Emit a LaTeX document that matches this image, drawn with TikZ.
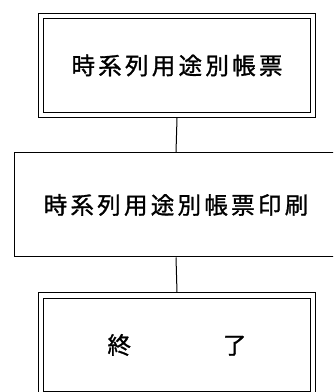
\documentclass[tikz,border=0pt]{standalone}
\usepackage{fontspec}
\newfontfamily\jp[LetterSpace=14,FakeBold=1.2]{Noto Sans CJK JP}
\usepackage{tikz}
\tikzstyle{box}=[draw=black,line width=1pt,inner sep=0pt,font=\jp\fontsize{23.5}{24}\selectfont]
\tikzstyle{file}=[box,double,double distance=4.5pt,outer sep=3.2pt]
\tikzset{every picture/.style={
    x=1pt,y=1pt
  }
}
\begin{document}
\begin{tikzpicture}
      \clip (0,0) rectangle (333,392);
      \node[file,minimum width=272pt,minimum height=99pt] at (177,326.5) (table) {時系列用途別帳票};
      \node[box,minimum width=324pt,minimum height=104pt] at (176,187) (print) {時系列用途別帳票印刷};
      \node[file,minimum width=272pt,minimum height=99pt] at (177,47) (end) {終\hspace{92pt}了};
      \draw[line width=1pt] (table.south)--(print.north);
      \draw[line width=1pt] (print.south)--(end.north);
    \end{tikzpicture}
\end{document}
